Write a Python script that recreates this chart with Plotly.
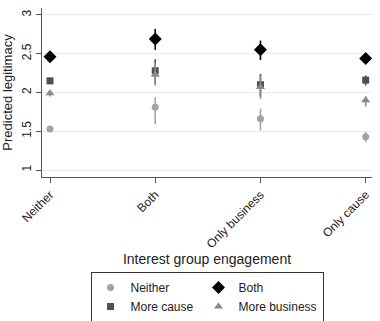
import plotly.graph_objects as go

categories = ["Neither", "Both", "Only business", "Only cause"]
series_names = ["Neither", "Both", "More cause", "More business"]
legend_groups = ["col1", "col2", "col1", "col2"]

neither_vals = [1.53, 1.81, 1.66, 1.43]
neither_lo = [1.50, 1.59, 1.51, 1.36]
neither_hi = [1.56, 1.94, 1.79, 1.49]

both_vals = [2.46, 2.69, 2.55, 2.44]
both_lo = [2.42, 2.55, 2.42, 2.39]
both_hi = [2.50, 2.82, 2.67, 2.49]

cause_vals = [2.15, 2.28, 2.10, 2.16]
cause_lo = [2.11, 2.12, 1.95, 2.09]
cause_hi = [2.19, 2.43, 2.24, 2.22]

business_vals = [1.99, 2.23, 2.07, 1.90]
business_lo = [1.95, 2.09, 1.92, 1.82]
business_hi = [2.03, 2.38, 2.22, 1.95]

yticks = [1, 1.5, 2, 2.5, 3]

styles = [
    (neither_vals, neither_lo, neither_hi, "#a3a3a3", "circle", 7),
    (both_vals, both_lo, both_hi, "#000000", "diamond", 10),
    (cause_vals, cause_lo, cause_hi, "#505050", "square", 7),
    (business_vals, business_lo, business_hi, "#8a8a8a", "triangle-up", 8),
]

fig = go.Figure()
xi = list(range(len(categories)))
for name, grp, (v, lo, hi, col, sym, sz) in zip(series_names, legend_groups, styles):
    fig.add_trace(go.Scatter(
        x=xi, y=v, mode="markers", name=name, legendgroup=grp,
        marker=dict(color=col, symbol=sym, size=sz, line=dict(width=0)),
        error_y=dict(type="data", symmetric=False,
                     array=[h - m for h, m in zip(hi, v)],
                     arrayminus=[m - l for m, l in zip(v, lo)],
                     color=col, thickness=1.6, width=0),
    ))

fig.update_layout(
    width=380, height=321,
    margin=dict(l=42, r=8, t=8, b=144, autoexpand=False),
    paper_bgcolor="white", plot_bgcolor="white",
    font=dict(family="Liberation Sans, Arial, sans-serif", color="#222", size=12),
    showlegend=True,
    legend=dict(orientation="h", x=0.5, xanchor="center", y=-0.562, yanchor="top",
                bordercolor="#333", borderwidth=1,
                font=dict(size=12), itemsizing="trace", tracegroupgap=0,
                itemwidth=30, itemclick=False, itemdoubleclick=False),
)
fig.update_xaxes(
    tickmode="array", tickvals=xi, ticktext=categories, tickangle=-45,
    range=[-0.076, 3.06], showgrid=False, zeroline=False, automargin=False,
    showline=True, linecolor="#555", linewidth=1, ticks="outside", ticklen=5,
    tickcolor="#555", tickfont=dict(size=12),
    title=dict(text="Interest group engagement", font=dict(size=14), standoff=4),
)
fig.update_yaxes(
    tickvals=yticks, range=[0.91, 3.09], tickangle=-90, automargin=False,
    showgrid=True, gridcolor="#ebebeb", gridwidth=1, zeroline=False,
    showline=True, linecolor="#555", linewidth=1, ticks="outside", ticklen=5,
    tickcolor="#555", tickfont=dict(size=12),
    title=dict(text="Predicted legitimacy", font=dict(size=13), standoff=4),
)

fig.write_html("out.html", config={"displayModeBar": False},
               post_script="document.body.style.margin='0';")
